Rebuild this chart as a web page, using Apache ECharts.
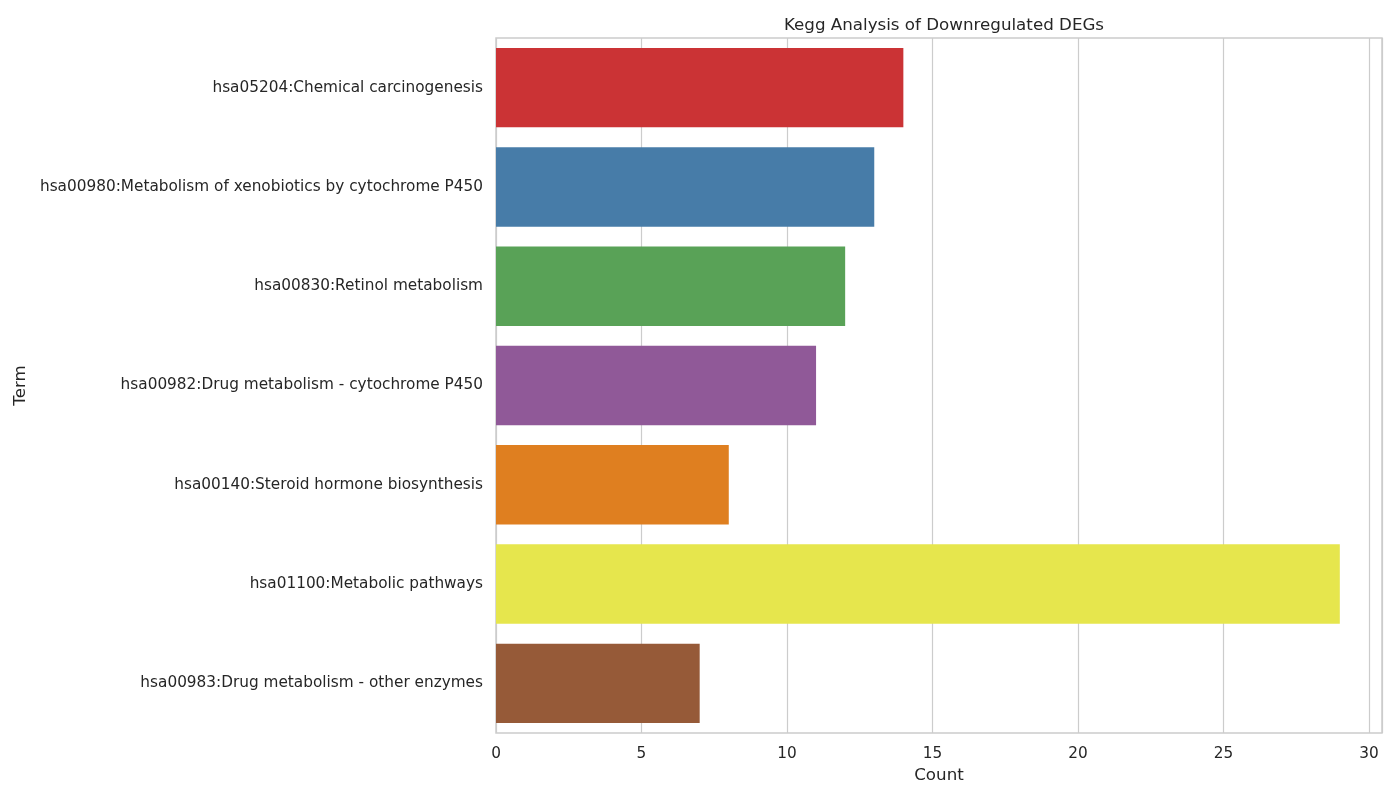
<!DOCTYPE html>
<html lang="en">
<head>
    <meta charset="UTF-8">
    <title>Kegg Analysis of Downregulated DEGs</title>
    <script src="https://cdn.jsdelivr.net/npm/echarts@6/dist/echarts.min.js"></script>
    <style>
        html, body { margin: 0; padding: 0; background: #fff; }
    </style>
</head>
<body>
    <div id="chart" style="width: 1400px; height: 800px;"></div>
    <script>
    // pathway terms (top to bottom)
    var terms = [
        'hsa05204:Chemical carcinogenesis',
        'hsa00980:Metabolism of xenobiotics by cytochrome P450',
        'hsa00830:Retinol metabolism',
        'hsa00982:Drug metabolism - cytochrome P450',
        'hsa00140:Steroid hormone biosynthesis',
        'hsa01100:Metabolic pathways',
        'hsa00983:Drug metabolism - other enzymes'
    ];
    var counts = [14, 13, 12, 11, 8, 29, 7];
    // Set1 palette, desaturated like seaborn does
    var barColors = ['#cb3335', '#477ca8', '#59a257', '#905998', '#df7f20', '#e6e64d', '#965a38'];

    var textColor = '#262626';
    var fontName = 'DejaVu Sans';

    var myChart = echarts.init(document.getElementById('chart'));

    var option = {
        animation: false,
        backgroundColor: '#fff',
        textStyle: { fontFamily: fontName, color: textColor },
        title: {
            text: 'Kegg Analysis of Downregulated DEGs',
            left: 939,
            top: 12,
            textAlign: 'center',
            textStyle: { fontFamily: fontName, fontSize: 16.7, fontWeight: 'normal', color: textColor }
        },
        grid: {
            left: 496,
            right: 18,
            top: 38,
            bottom: 67,
            show: true,
            borderColor: '#cccccc',
            borderWidth: 1.5,
            containLabel: false
        },
        xAxis: {
            type: 'value',
            min: 0,
            max: 30.45,
            interval: 5,
            name: 'Count',
            nameLocation: 'middle',
            nameGap: 33,
            nameTextStyle: { fontFamily: fontName, fontSize: 16.7, color: textColor },
            axisLine: { show: false },
            axisTick: { show: false },
            axisLabel: {
                margin: 14,
                fontSize: 15.3,
                color: textColor,
                fontFamily: fontName,
                showMaxLabel: false
            },
            splitLine: { show: true, lineStyle: { color: '#cccccc', width: 1.2 } }
        },
        yAxis: {
            type: 'category',
            data: terms,
            inverse: true,
            name: 'Term',
            nameLocation: 'middle',
            nameGap: 461,
            nameRotate: 90,
            nameTextStyle: { fontFamily: fontName, fontSize: 16.7, color: textColor },
            axisLine: { show: false },
            axisTick: { show: false },
            axisLabel: {
                margin: 13,
                fontSize: 15.3,
                color: textColor,
                fontFamily: fontName,
                padding: [4, 0, 0, 0]
            },
            splitLine: { show: false }
        },
        series: [{
            type: 'bar',
            data: counts.map(function (v, i) {
                return { value: v, itemStyle: { color: barColors[i] } };
            }),
            barCategoryGap: '20%'
        }]
    };

    myChart.setOption(option);
    </script>
</body>
</html>
